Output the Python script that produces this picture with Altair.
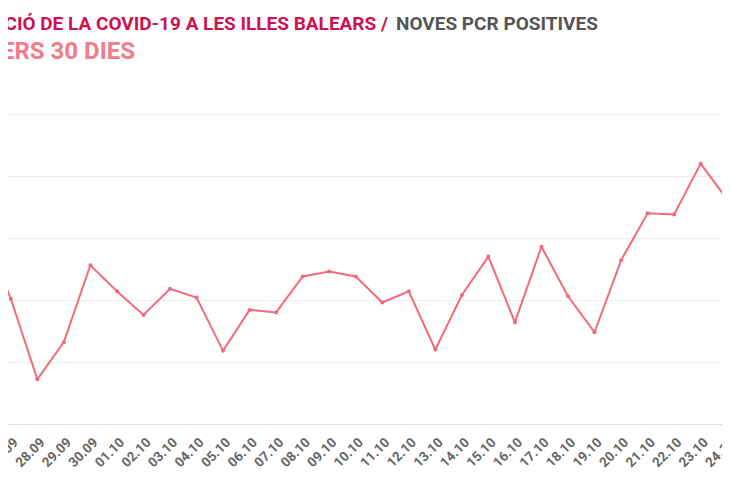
import altair as alt
import pandas as pd

# Data
dates = ["26.09", "27.09", "28.09", "29.09", "30.09", "01.10", "02.10", "03.10", "04.10", "05.10",
         "06.10", "07.10", "08.10", "09.10", "10.10", "11.10", "12.10", "13.10", "14.10", "15.10",
         "16.10", "17.10", "18.10", "19.10", "20.10", "21.10", "22.10", "23.10", "24.10", "25.10"]
positives = [155, 101, 36, 66, 128, 107, 88, 109, 102, 59,
             92, 90, 119, 123, 119, 98, 107, 60, 104, 135,
             82, 143, 103, 74, 132, 170, 169, 210, 181, 156]

title_main = ["EVOLUCIÓ DE LA COVID-19 A LES ILLES BALEARS /"]
title_side = ["NOVES PCR POSITIVES"]
title_sub = ["DARRERS 30 DIES"]

FONT = "Roboto"
LINE_COLOR = "#f16a7b"

df = pd.DataFrame({"date": dates, "value": positives})

base = alt.Chart(df).encode(
    x=alt.X("date:O", sort=None, title=None,
            scale=alt.Scale(type="point", padding=0.5),
            axis=alt.Axis(labelAngle=-45, grid=False, ticks=False, domain=True,
                          domainColor="#dddddd", labelFont=FONT, labelFontSize=13.5,
                          labelFontWeight="bold", labelColor="#666666", labelPadding=11)),
    y=alt.Y("value:Q", title=None,
            scale=alt.Scale(domain=[0, 250], nice=False),
            axis=alt.Axis(values=[0, 50, 100, 150, 200, 250], grid=True, gridColor="#eeeeee",
                          domain=False, ticks=False, labelFont=FONT, labelColor="#666666")),
)

line = base.mark_line(color=LINE_COLOR, strokeWidth=2)
points = base.mark_circle(color=LINE_COLOR, size=16, opacity=1)

t1 = alt.Chart(pd.DataFrame({"t": title_main})).mark_text(
    align="right", baseline="alphabetic", font=FONT, fontSize=19, fontWeight="bold", color="#cc1250"
).encode(text="t:N", x=alt.value(417), y=alt.value(-84.5))

t2 = alt.Chart(pd.DataFrame({"t": title_side})).mark_text(
    align="left", baseline="alphabetic", font=FONT, fontSize=19, fontWeight="bold", color="#555555"
).encode(text="t:N", x=alt.value(425), y=alt.value(-84.5))

t3 = alt.Chart(pd.DataFrame({"t": title_sub})).mark_text(
    align="right", baseline="alphabetic", font=FONT, fontSize=24, fontWeight="bold", color="#f47b87"
).encode(text="t:N", x=alt.value(164), y=alt.value(-54.7))

chart = alt.layer(line, points, t1, t2, t3).properties(
    width=796,
    height=310,
    autosize=alt.AutoSizeParams(type="none"),
    padding={"left": -37, "right": -45, "top": 106, "bottom": 55},
).configure_view(stroke=None).configure(background="white")

chart.save("out.html", embed_options={"renderer": "svg", "actions": False})
